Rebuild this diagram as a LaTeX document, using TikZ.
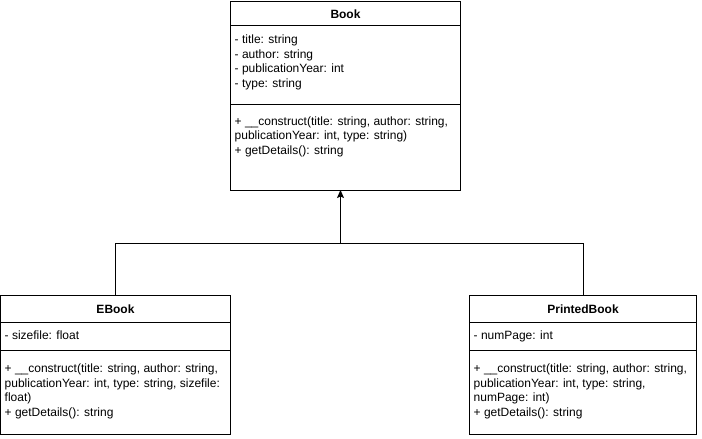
\documentclass[tikz,border=0pt]{standalone}
\usepackage{fontspec}
\setmainfont{Liberation Sans}
\usetikzlibrary{arrows.meta}
\begin{document}
\begin{tikzpicture}[x=1pt,y=-1pt,
  comp/.style={draw, line width=1pt, anchor=north west, inner sep=0pt, outer sep=0pt, minimum width=230pt},
  txt/.style={anchor=north west, inner sep=0pt, align=left, font=\fontsize{12}{14.4}\selectfont},
  head/.style={anchor=base, inner sep=0pt, font=\bfseries\fontsize{12}{14.4}\selectfont},
  conn/.style={line width=1pt}
]
\useasboundingbox (0,0) rectangle (702,439);
% Book
\node[comp, minimum height=24pt] (bookhead) at (230.5,1) {};
\node[comp, minimum height=79pt] (bookattr) at (230.5,25) {};
\node[comp, minimum height=86pt] (bookmeth) at (230.5,104) {};
\node[head] (booktitle) at (345.5,18.3) {Book};
\node[txt] (bookattrtxt) at (234.5,35) {- title: string\\- author: string\\- publicationYear: int\\- type: string};
\node[txt] (bookmethtxt) at (234.5,116.5) {+ \_\_construct(title: string, author: string,\\publicationYear: int, type: string)\\+ getDetails(): string};
% EBook
\node[comp, minimum height=27pt] (ebookhead) at (0.5,295) {};
\node[comp, minimum height=28pt] (ebookattr) at (0.5,322) {};
\node[comp, minimum height=84pt] (ebookmeth) at (0.5,350) {};
\node[head] (ebooktitle) at (115.5,313.3) {EBook};
\node[txt] (ebookattrtxt) at (4.5,331) {- sizefile: float};
\node[txt] (ebookmethtxt) at (4.5,364) {+ \_\_construct(title: string, author: string,\\publicationYear: int, type: string, sizefile:\\float)\\+ getDetails(): string};
% PrintedBook
\node[comp, minimum height=27pt, minimum width=227pt] (pbhead) at (469.5,295) {};
\node[comp, minimum height=28pt, minimum width=227pt] (pbattr) at (469.5,322) {};
\node[comp, minimum height=84pt, minimum width=227pt] (pbmeth) at (469.5,350) {};
\node[head] (pbtitle) at (583,313.3) {PrintedBook};
\node[txt] (pbattrtxt) at (473.5,331) {- numPage: int};
\node[txt] (pbmethtxt) at (473.5,364) {+ \_\_construct(title: string, author: string,\\publicationYear: int, type: string,\\numPage: int)\\+ getDetails(): string};
% connectors
\coordinate (j) at (340.5,243.5);
\draw[conn] (ebookhead.north) |- (j);
\draw[conn] (pbhead.north) |- (j);
\draw[conn, -{Stealth[length=8pt,width=7pt,inset=1.5pt]}] (j) -- (j |- bookmeth.south);
\end{tikzpicture}
\end{document}
